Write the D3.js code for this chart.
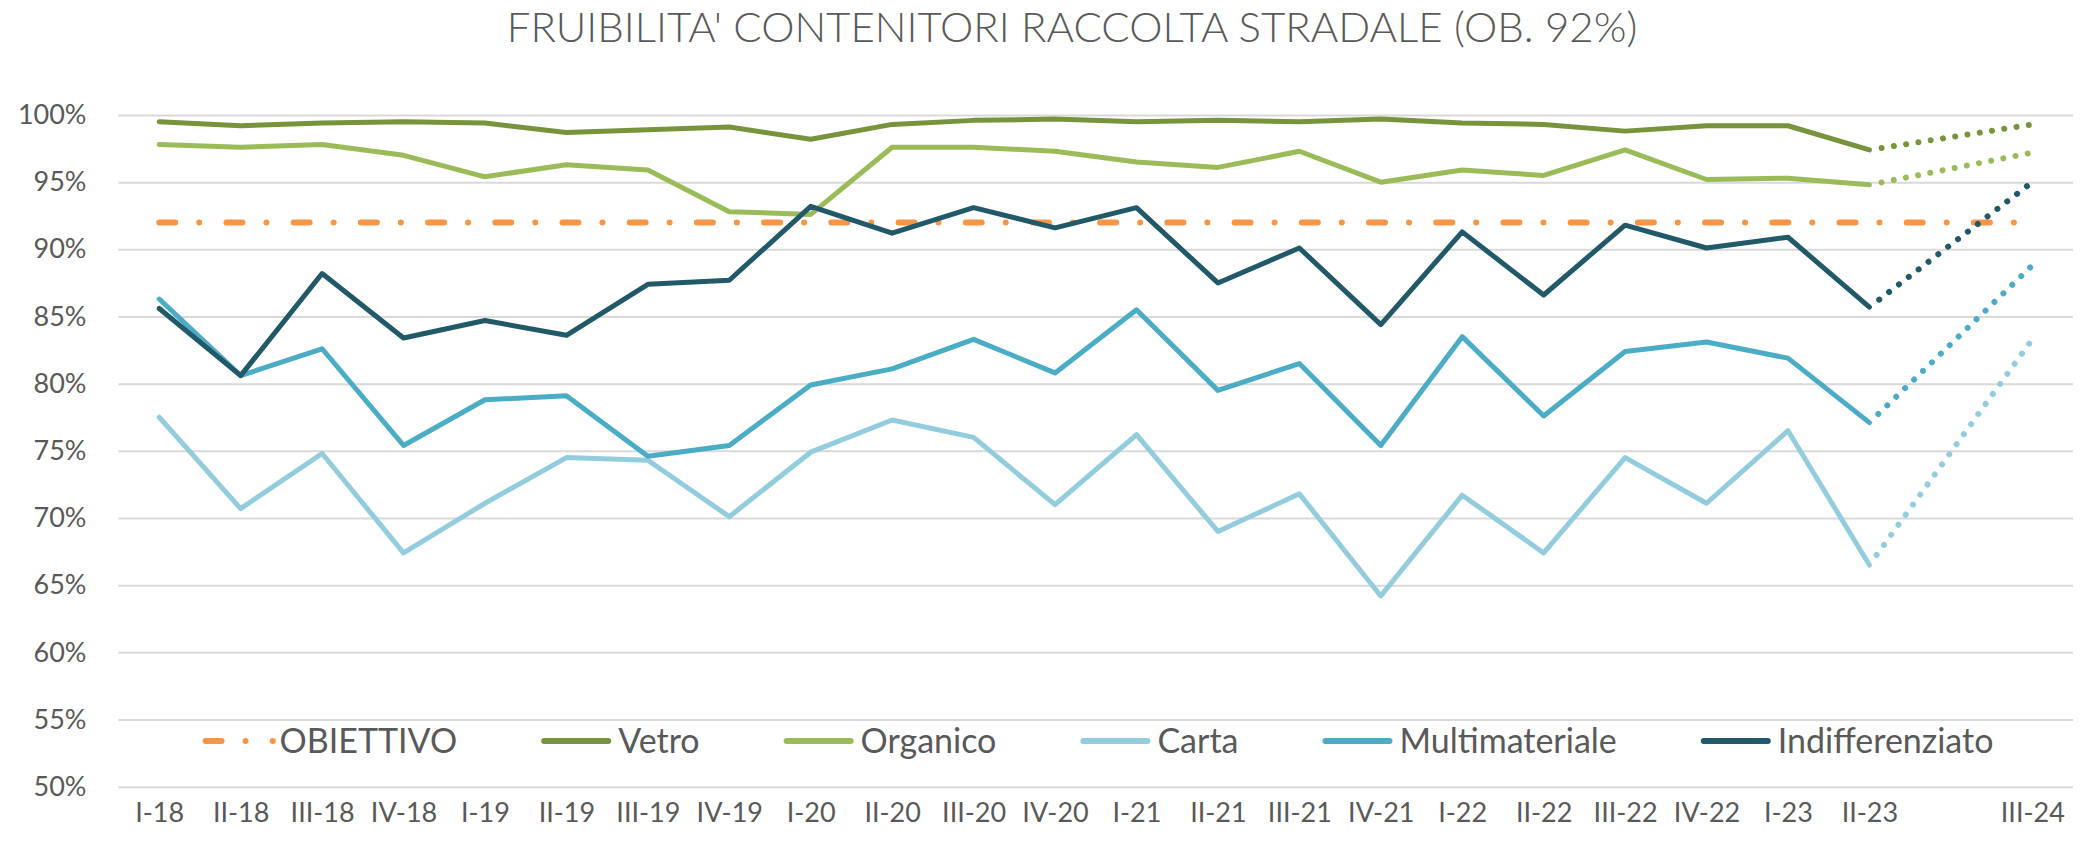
<!DOCTYPE html>
<html>
<head>
<meta charset="utf-8">
<script src="https://cdn.jsdelivr.net/npm/d3@7"></script>
<style>
body { margin: 0; background: #fff; }
text { font-family: Lato, "Open Sans", sans-serif; fill: #595959; }
.grid line { stroke: #d9d9d9; stroke-width: 2; }
</style>
</head>
<body>
<div class="chart"></div>
<script>
// quarters; the slot before III-24 has no label
var categories = ["I-18", "II-18", "III-18", "IV-18", "I-19", "II-19", "III-19", "IV-19",
    "I-20", "II-20", "III-20", "IV-20", "I-21", "II-21", "III-21", "IV-21",
    "I-22", "II-22", "III-22", "IV-22", "I-23", "II-23", "", "III-24"];
var yTicks = [0.50, 0.55, 0.60, 0.65, 0.70, 0.75, 0.80, 0.85, 0.90, 0.95, 1.00];

var obiettivo = 92;
var vetro = [99.5, 99.2, 99.4, 99.5, 99.4, 98.7, 98.9, 99.1, 98.2, 99.3, 99.6, 99.7,
    99.5, 99.6, 99.5, 99.7, 99.4, 99.3, 98.8, 99.2, 99.2, 97.4];
var organico = [97.8, 97.6, 97.8, 97.0, 95.4, 96.3, 95.9, 92.8, 92.6, 97.6, 97.6, 97.3,
    96.5, 96.1, 97.3, 95.0, 95.9, 95.5, 97.4, 95.2, 95.3, 94.8];
var carta = [77.5, 70.7, 74.8, 67.4, 71.1, 74.5, 74.3, 70.1, 74.9, 77.3, 76.0, 71.0,
    76.2, 69.0, 71.8, 64.2, 71.7, 67.4, 74.5, 71.1, 76.5, 66.5];
var multimateriale = [86.3, 80.6, 82.6, 75.4, 78.8, 79.1, 74.6, 75.4, 79.9, 81.1, 83.3, 80.8,
    85.5, 79.5, 81.5, 75.4, 83.5, 77.6, 82.4, 83.1, 81.9, 77.1];
var indifferenziato = [85.6, 80.6, 88.2, 83.4, 84.7, 83.6, 87.4, 87.7, 93.2, 91.2, 93.1, 91.6,
    93.1, 87.5, 90.1, 84.4, 91.3, 86.6, 91.8, 90.1, 90.9, 85.7];
// III-24 values (dotted projection)
var target24 = { vetro: 99.3, organico: 97.2, carta: 83.3, multimateriale: 88.8, indifferenziato: 95.0 };

var series = [
    { name: "Vetro", key: "vetro", values: vetro, color: "#77933c" },
    { name: "Organico", key: "organico", values: organico, color: "#9bbb59" },
    { name: "Carta", key: "carta", values: carta, color: "#93cddd" },
    { name: "Multimateriale", key: "multimateriale", values: multimateriale, color: "#4bacc6" },
    { name: "Indifferenziato", key: "indifferenziato", values: indifferenziato, color: "#215968" }
];
var obColor = "#f79646";
var obDash = "16 24 0.01 27.2";

var W = 2080, H = 843;
var margin = { left: 118.5, right: 2073, top: 115, bottom: 786.7 };

var svg = d3.select(".chart").append("svg")
    .attr("width", W)
    .attr("height", H);

var x = d3.scalePoint().domain(categories).range([margin.left, margin.right]).padding(0.5);
var y = d3.scaleLinear().domain([0.5, 1]).range([margin.bottom, margin.top]);

// title
svg.append("text")
    .attr("x", 1072).attr("y", 42)
    .attr("text-anchor", "middle")
    .style("font-size", "42px")
    .style("font-weight", 300)
    .text("FRUIBILITA' CONTENITORI RACCOLTA STRADALE (OB. 92%)");

// y axis + gridlines
var yAxis = d3.axisLeft(y).tickValues(yTicks).tickFormat(d3.format(".0%"))
    .tickSize(-(margin.right - margin.left)).tickPadding(32);
svg.append("g")
    .attr("class", "grid")
    .attr("transform", "translate(" + margin.left + ",0)")
    .call(yAxis)
    .call(function(g) { g.select(".domain").remove(); })
    .selectAll("text")
    .style("font-size", "27px")
    .style("font-family", "Lato, 'Open Sans', sans-serif")
    .attr("fill", "#595959");

// x axis
var xAxis = d3.axisBottom(x).tickSize(0).tickPadding(16);
svg.append("g")
    .attr("transform", "translate(0," + margin.bottom + ")")
    .call(xAxis)
    .call(function(g) { g.select(".domain").remove(); })
    .selectAll("text")
    .style("font-size", "27px")
    .style("font-family", "Lato, 'Open Sans', sans-serif")
    .attr("fill", "#595959");

var line = d3.line()
    .x(function(d) { return x(d.cat); })
    .y(function(d) { return y(d.v / 100); });

// objective line
var obData = [{ cat: categories[0], v: obiettivo }, { cat: categories[categories.length - 1], v: obiettivo }];
svg.append("path")
    .attr("d", line(obData))
    .attr("fill", "none")
    .attr("stroke", obColor)
    .attr("stroke-width", 6)
    .attr("stroke-linecap", "round")
    .attr("stroke-dasharray", obDash);

// series
series.forEach(function(s) {
    var pts = s.values.map(function(v, i) { return { cat: categories[i], v: v }; });
    svg.append("path")
        .attr("d", line(pts))
        .attr("fill", "none")
        .attr("stroke", s.color)
        .attr("stroke-width", 5)
        .attr("stroke-linejoin", "round")
        .attr("stroke-linecap", "round");
    var proj = [pts[pts.length - 1], { cat: categories[categories.length - 1], v: target24[s.key] }];
    svg.append("path")
        .attr("d", line(proj))
        .attr("fill", "none")
        .attr("stroke", s.color)
        .attr("stroke-width", 6)
        .attr("stroke-linecap", "round")
        .attr("stroke-dasharray", "0.01 12.4")
        .attr("stroke-dashoffset", -12.4);
});

// legend
var legendItems = [{ name: "OBIETTIVO", color: obColor, dash: obDash }].concat(series);
var legend = svg.append("g");
var ly = 741, cx = 1098, sample = 70, gap = 84;
var items = legend.selectAll("g").data(legendItems).enter().append("g");
items.append("line")
    .attr("x1", 3)
    .attr("x2", function(d) { return d.dash ? 70.3 : sample - 3; })
    .attr("y1", 0).attr("y2", 0)
    .attr("stroke", function(d) { return d.color; })
    .attr("stroke-width", 6)
    .attr("stroke-linecap", "round")
    .attr("stroke-dasharray", function(d) { return d.dash || null; });
items.append("text")
    .attr("x", sample + 7)
    .attr("dy", "0.36em")
    .style("font-size", "34px")
    .text(function(d) { return d.name; });

var widths = [];
items.each(function() { widths.push(sample + 7 + d3.select(this).select("text").node().getComputedTextLength()); });
var total = d3.sum(widths) + gap * (widths.length - 1);
var pos = cx - total / 2;
items.attr("transform", function(d, i) {
    var p = pos;
    pos += widths[i] + gap;
    return "translate(" + p + "," + ly + ")";
});
</script>
</body>
</html>
